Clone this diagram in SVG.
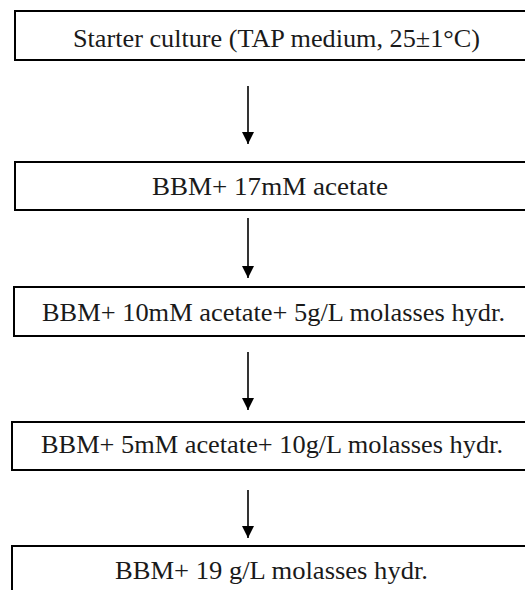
<svg xmlns="http://www.w3.org/2000/svg" width="525" height="590" viewBox="0 0 525 590">
<style>
.box{fill:#fff;stroke:#000;stroke-width:2}
.t{font-family:"Liberation Serif","Times New Roman",serif;font-size:26px;fill:#1a1a1a}
.c{stroke:#000;stroke-width:1.6;fill:none}
</style>
<defs>
<marker id="ah" viewBox="0 0 12 12" refX="12" refY="6" markerWidth="12" markerHeight="12" markerUnits="userSpaceOnUse" orient="auto">
<path d="M0,0 L12,6 L0,12 Z" fill="#000"/>
</marker>
</defs>
<rect width="525" height="590" fill="#fff"/>
<g id="n1"><rect class="box" x="15" y="11" width="530" height="49"/><text class="t" x="73" y="47" textLength="407" lengthAdjust="spacingAndGlyphs">Starter culture (TAP medium, 25±1°C)</text></g>
<g id="n2"><rect class="box" x="15" y="162" width="530" height="48"/><text class="t" x="152" y="195" textLength="236" lengthAdjust="spacingAndGlyphs">BBM+ 17mM acetate</text></g>
<g id="n3"><rect class="box" x="14" y="287" width="530" height="49"/><text class="t" x="42" y="321" textLength="463" lengthAdjust="spacingAndGlyphs">BBM+ 10mM acetate+ 5g/L molasses hydr.</text></g>
<g id="n4"><rect class="box" x="12" y="422" width="530" height="48"/><text class="t" x="41" y="453" textLength="462" lengthAdjust="spacingAndGlyphs">BBM+ 5mM acetate+ 10g/L molasses hydr.</text></g>
<g id="n5"><rect class="box" x="12" y="546" width="530" height="60"/><text class="t" x="115" y="579" textLength="313" lengthAdjust="spacingAndGlyphs">BBM+ 19 g/L molasses hydr.</text></g>
<g id="connectors">
<line class="c" x1="248" y1="86" x2="248" y2="144" marker-end="url(#ah)"/>
<line class="c" x1="248" y1="218" x2="248" y2="278" marker-end="url(#ah)"/>
<line class="c" x1="248" y1="352" x2="248" y2="410" marker-end="url(#ah)"/>
<line class="c" x1="248" y1="490" x2="248" y2="538" marker-end="url(#ah)"/>
</g>
</svg>
